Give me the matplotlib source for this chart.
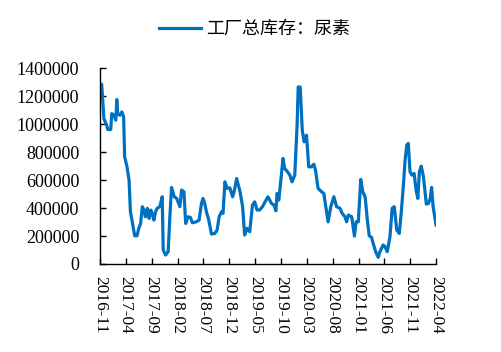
import pandas as pd
import matplotlib
matplotlib.use('Agg')
import matplotlib.pyplot as plt
import matplotlib.dates as mdates

# weekly factory urea stock
dates = [
    '2016-11-01', '2016-11-11', '2016-11-24', '2016-12-10', '2016-12-17', '2017-01-03',
    '2017-01-09', '2017-01-22', '2017-02-02', '2017-02-08', '2017-02-13', '2017-02-26',
    '2017-03-10', '2017-03-20', '2017-03-26', '2017-04-09', '2017-04-21', '2017-04-29',
    '2017-05-08', '2017-05-24', '2017-06-07', '2017-06-17', '2017-06-28', '2017-07-08',
    '2017-07-18', '2017-07-26', '2017-08-07', '2017-08-17', '2017-08-27', '2017-09-04',
    '2017-09-14', '2017-09-24', '2017-10-03', '2017-10-19', '2017-11-02', '2017-11-08',
    '2017-11-22', '2017-12-07', '2017-12-17', '2017-12-27', '2018-01-12', '2018-01-26',
    '2018-02-14', '2018-02-24', '2018-03-10', '2018-03-20', '2018-04-03', '2018-04-17',
    '2018-04-28', '2018-05-22', '2018-06-07', '2018-06-21', '2018-06-30', '2018-07-10',
    '2018-07-20', '2018-08-03', '2018-08-19', '2018-09-08', '2018-09-21', '2018-10-03',
    '2018-10-17', '2018-10-26', '2018-11-06', '2018-11-19', '2018-12-05', '2018-12-21',
    '2018-12-30', '2019-01-14', '2019-01-24', '2019-02-03', '2019-02-18', '2019-03-02',
    '2019-03-16', '2019-04-01', '2019-04-17', '2019-04-30', '2019-05-14', '2019-05-29',
    '2019-06-15', '2019-06-28', '2019-07-17', '2019-08-07', '2019-08-22', '2019-09-02',
    '2019-09-09', '2019-09-19', '2019-10-01', '2019-10-14', '2019-10-24', '2019-11-09',
    '2019-11-23', '2019-12-06', '2019-12-22', '2020-01-05', '2020-01-11', '2020-01-23',
    '2020-02-04', '2020-02-15', '2020-02-29', '2020-03-13', '2020-03-29', '2020-04-12',
    '2020-04-22', '2020-05-07', '2020-05-27', '2020-06-10', '2020-06-20', '2020-07-05',
    '2020-07-21', '2020-08-08', '2020-08-24', '2020-09-13', '2020-09-26', '2020-10-12',
    '2020-10-22', '2020-11-01', '2020-11-21', '2020-12-07', '2020-12-17', '2020-12-30',
    '2021-01-13', '2021-01-25', '2021-02-08', '2021-02-21', '2021-03-04', '2021-03-18',
    '2021-03-27', '2021-04-11', '2021-04-26', '2021-05-06', '2021-05-25', '2021-06-05',
    '2021-06-18', '2021-07-04', '2021-07-17', '2021-07-29', '2021-08-13', '2021-08-28',
    '2021-09-08', '2021-09-21', '2021-10-01', '2021-10-11', '2021-10-20', '2021-10-30',
    '2021-11-10', '2021-11-23', '2021-12-05', '2021-12-15', '2021-12-24', '2022-01-04',
    '2022-01-17', '2022-02-03', '2022-02-16', '2022-02-26', '2022-03-06', '2022-03-15',
    '2022-04-01',
]
stock = [
    1266000, 1286000, 1040000, 993000, 962000, 962000,
    1076000, 1064000, 1029000, 1176000, 1076000, 1064000,
    1088000, 1052000, 767000, 695000, 600000, 374000,
    314000, 202000, 202000, 255000, 290000, 410000,
    386000, 338000, 398000, 326000, 386000, 362000,
    314000, 374000, 398000, 410000, 481000, 100000,
    64000, 88000, 338000, 548000, 481000, 469000,
    410000, 529000, 517000, 290000, 338000, 333000,
    295000, 302000, 314000, 433000, 469000, 433000,
    374000, 314000, 214000, 219000, 243000, 338000,
    374000, 362000, 588000, 541000, 545000, 481000,
    517000, 612000, 564000, 517000, 410000, 207000,
    255000, 231000, 421000, 445000, 386000, 386000,
    410000, 440000, 481000, 433000, 421000, 381000,
    505000, 457000, 600000, 755000, 683000, 660000,
    636000, 588000, 636000, 1005000, 1266000, 1266000,
    957000, 874000, 921000, 695000, 695000, 714000,
    671000, 541000, 517000, 505000, 421000, 302000,
    410000, 481000, 410000, 398000, 362000, 338000,
    302000, 350000, 338000, 200000, 302000, 302000,
    605000, 517000, 481000, 314000, 202000, 190000,
    148000, 88000, 48000, 88000, 136000, 124000,
    88000, 195000, 398000, 410000, 243000, 219000,
    362000, 564000, 743000, 850000, 862000, 660000,
    636000, 648000, 529000, 469000, 660000, 700000,
    624000, 429000, 433000, 469000, 548000, 410000,
    279000,
]
tick_months = ['2016-11', '2017-04', '2017-09', '2018-02', '2018-07', '2018-12', '2019-05',
               '2019-10', '2020-03', '2020-08', '2021-01', '2021-06', '2021-11', '2022-04']
y_ticks = [0, 200000, 400000, 600000, 800000, 1000000, 1200000, 1400000]
series_name = '工厂总库存：尿素'

x = pd.to_datetime(dates)
ticks = pd.to_datetime([m + '-01' for m in tick_months])

fig = plt.figure(figsize=(5.01, 3.52), dpi=100)
ax = fig.add_axes([0.1996, 0.25, 0.6707, 0.556])

ax.plot(x, stock, color='#0070C0', linewidth=2.3, label=series_name)

ax.set_xlim(ticks[0], ticks[-1])
ax.set_ylim(0, 1400000)
ax.set_xticks(ticks)
ax.xaxis.set_major_formatter(mdates.DateFormatter('%Y-%m'))
ax.set_yticks(y_ticks)
ax.set_yticklabels([str(v) for v in y_ticks])

for s in ['top', 'right']:
    ax.spines[s].set_visible(False)
for s in ['left', 'bottom']:
    ax.spines[s].set_linewidth(1.0)

ax.tick_params(axis='both', direction='in', length=4.5, width=1)
ax.tick_params(axis='x', pad=9)
ax.tick_params(axis='y', pad=15)
for lab in ax.get_xticklabels():
    lab.set_family('Liberation Serif')
    lab.set_fontsize(12.5)
    lab.set_rotation(-90)
    lab.set_ha('center')
    lab.set_va('top')
for lab in ax.get_yticklabels():
    lab.set_family('Liberation Serif')
    lab.set_fontsize(13)

fig.legend(loc='center', bbox_to_anchor=(0.508, 0.918), frameon=False,
           handlelength=2.3, handletextpad=0.3,
           prop={'family': ['Noto Sans CJK SC', 'DejaVu Sans'], 'size': 13})

fig.savefig('out.png', dpi=100)
